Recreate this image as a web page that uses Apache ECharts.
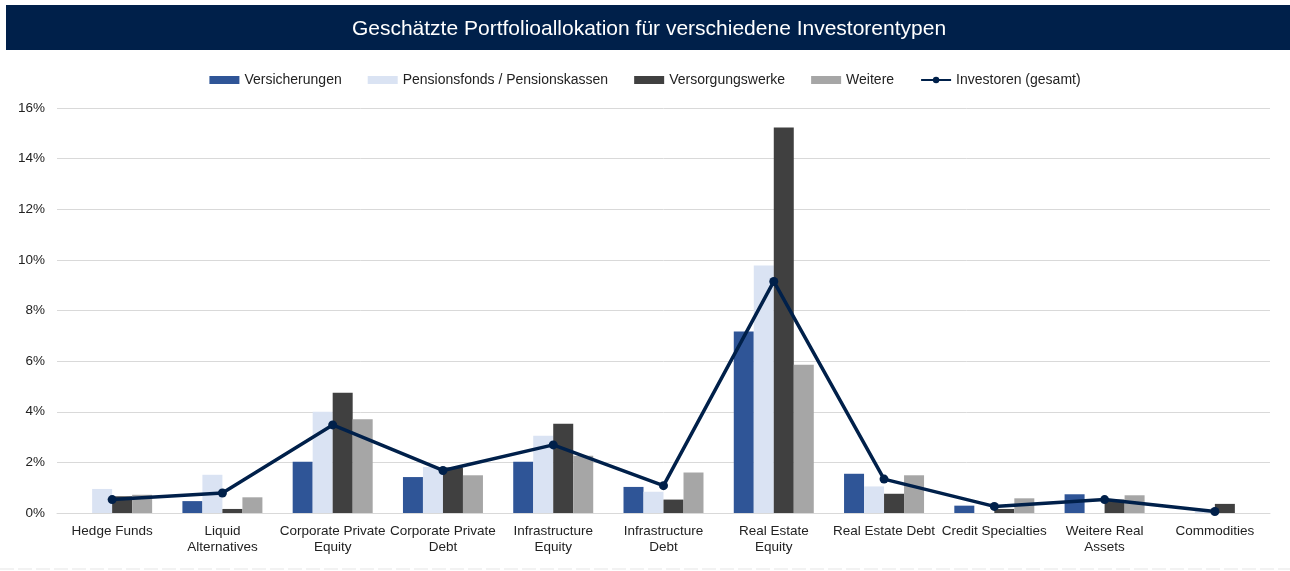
<!DOCTYPE html>
<html>
<head>
<meta charset="utf-8">
<script src="https://cdn.jsdelivr.net/npm/echarts@6/dist/echarts.min.js"></script>
<style>
  html, body { margin: 0; padding: 0; background: #fff; }
  .Echart { width: 1290px; height: 571px; }
</style>
</head>
<body>
<div class="Echart" id="echart"></div>
<script>
const categories = ["Hedge Funds", "Liquid\nAlternatives", "Corporate Private\nEquity", "Corporate Private\nDebt",
  "Infrastructure\nEquity", "Infrastructure\nDebt", "Real Estate\nEquity", "Real Estate Debt",
  "Credit Specialties", "Weitere Real\nAssets", "Commodities"]

const versicherungen = [0, 0.47, 2.02, 1.42, 2.02, 1.03, 7.17, 1.55, 0.29, 0.74, 0]
const pensionsfonds = [0.95, 1.51, 4.0, 1.82, 3.05, 0.84, 9.78, 1.05, 0, 0, 0.07]
const versorgungswerke = [0.66, 0.16, 4.75, 1.8, 3.53, 0.53, 15.23, 0.76, 0.16, 0.53, 0.36]
const weitere = [0.72, 0.62, 3.7, 1.49, 2.26, 1.6, 5.86, 1.49, 0.58, 0.7, 0]
const gesamt = [0.53, 0.79, 3.48, 1.68, 2.69, 1.08, 9.15, 1.34, 0.26, 0.53, 0.06]

const yTicks = [0, 2, 4, 6, 8, 10, 12, 14, 16]

const font = "'Liberation Sans', Arial, sans-serif"
const myChart = echarts.init(document.getElementById('echart'))

function barSeries(name, data, color) {
  return {
    name: name,
    type: 'bar',
    data: data,
    barWidth: 20,
    barGap: '0%',
    itemStyle: { color: color }
  }
}

myChart.setOption({
  animation: false,
  textStyle: { fontFamily: font },
  graphic: [
    {
      type: 'rect',
      left: 6, top: 5,
      shape: { width: 1284, height: 45 },
      style: { fill: '#00204A' },
      z: 0
    },
    {
      type: 'text',
      x: 649, y: 29,
      style: {
        text: 'Geschätzte Portfolioallokation für verschiedene Investorentypen',
        fill: '#fff', font: '21px ' + font,
        textAlign: 'center', textVerticalAlign: 'middle'
      },
      z: 1
    },
    {
      // faint dashed frame edge at the bottom
      type: 'line',
      shape: { x1: 0, y1: 569, x2: 1290, y2: 569 },
      style: { stroke: '#eeeeee', lineWidth: 1.5, lineDash: [14, 4] },
      z: 0
    }
  ],
  legend: {
    top: 68,
    left: 'center',
    itemWidth: 30,
    itemHeight: 8,
    itemGap: 26,
    textStyle: { fontSize: 14, color: '#222', fontFamily: font },
    data: [
      { name: 'Versicherungen', icon: 'rect' },
      { name: 'Pensionsfonds / Pensionskassen', icon: 'rect' },
      { name: 'Versorgungswerke', icon: 'rect' },
      { name: 'Weitere', icon: 'rect' },
      { name: 'Investoren (gesamt)' }
    ]
  },
  grid: { left: 57, right: 20, top: 108, bottom: 58 },
  xAxis: {
    type: 'category',
    data: categories,
    axisLine: { lineStyle: { color: '#d9d9d9' } },
    axisTick: { show: false },
    axisLabel: { color: '#222', fontSize: 13.5, lineHeight: 16, margin: 10, interval: 0, fontFamily: font }
  },
  yAxis: {
    type: 'value',
    min: yTicks[0],
    max: yTicks[yTicks.length - 1],
    interval: 2,
    axisLine: { show: false },
    axisTick: { show: false },
    axisLabel: { color: '#222', fontSize: 13.5, margin: 12, formatter: '{value}%', fontFamily: font },
    splitLine: { lineStyle: { color: '#d9d9d9' } }
  },
  series: [
    barSeries('Versicherungen', versicherungen, '#2F5597'),
    barSeries('Pensionsfonds / Pensionskassen', pensionsfonds, '#DAE3F3'),
    barSeries('Versorgungswerke', versorgungswerke, '#404040'),
    barSeries('Weitere', weitere, '#A6A6A6'),
    {
      name: 'Investoren (gesamt)',
      type: 'line',
      data: gesamt,
      symbol: 'circle',
      symbolSize: 9,
      lineStyle: { color: '#00204A', width: 3.5 },
      itemStyle: { color: '#00204A' },
      z: 5
    }
  ]
})
</script>
</body>
</html>
